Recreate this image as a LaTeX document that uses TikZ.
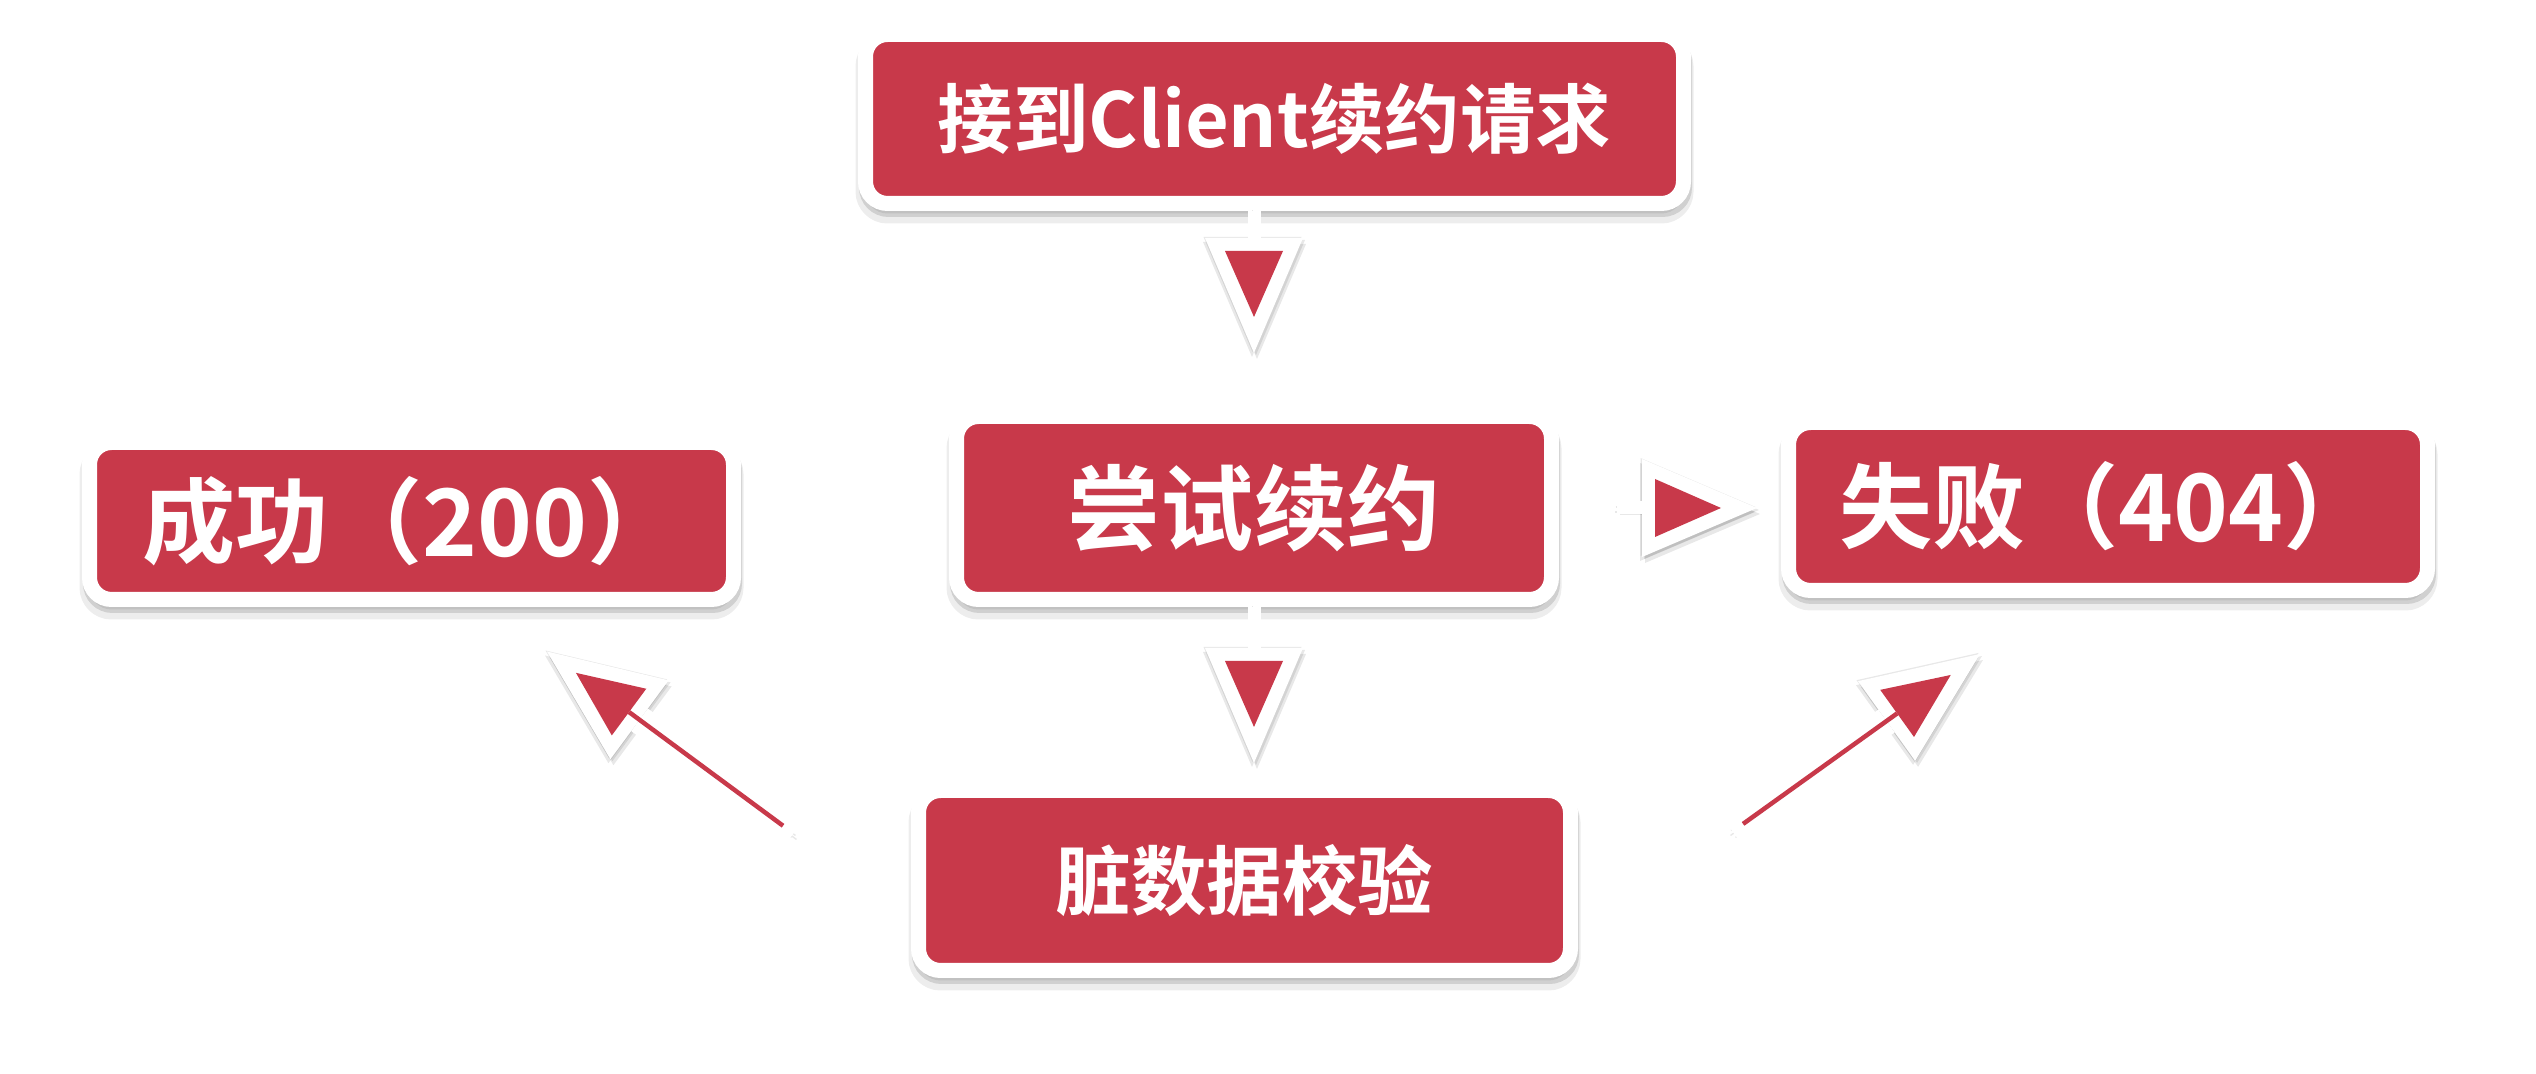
\documentclass[tikz,border=0pt]{standalone}
\usepackage{fontspec}
\newfontfamily\cjkfont{Noto Sans CJK SC}[BoldFont={* Bold}]
\usetikzlibrary{arrows.meta, calc, positioning}
\definecolor{boxred}{HTML}{C8394A}
\tikzset{
  % riquadro rosso, bordo bianco, ombra morbida
  box/.style={rectangle, rounded corners=0.22cm, fill=boxred, draw=white, line width=0.15cm,
    text=white, align=center, inner sep=0pt,
    preaction={draw=black, fill=black, opacity=0.07, line width=0.2cm, transform canvas={yshift=-0.1cm}},
    preaction={draw=black, fill=black, opacity=0.12, transform canvas={shift={(0.01cm,-0.06cm)}}}},
  bigbox/.style={box, font=\cjkfont\bfseries\fontsize{26.5pt}{30pt}\selectfont},
  smallbox/.style={box, font=\cjkfont\bfseries\fontsize{21.5pt}{26pt}\selectfont},
  % punte delle frecce
  whitetip/.tip={Triangle[length=1.15cm, width=0.98cm, line width=0pt]},
  redtip/.tip={Triangle[length=0.66cm, width=0.58cm, line width=0pt, color=boxred]},
  % ombra sfumata di una freccia
  arrowshade/.style={preaction={draw=black, opacity=#1, transform canvas={shift={(0.03cm,-0.06cm)}}},
    preaction={draw=black, opacity=#1, transform canvas={shift={(-0.02cm,-0.04cm)}}},
    preaction={draw=black, opacity=#1, transform canvas={shift={(0.02cm,-0.02cm)}}},
    preaction={draw=black, opacity=#1, transform canvas={shift={(-0.015cm,0.01cm)}}}},
  % freccia a blocco con ombra
  flowbase/.style={draw=white, -{whitetip}, arrowshade=0.09},
  flow/.style={flowbase, line width=0.13cm,
    postaction={draw=white, shorten >=0.36cm, -{redtip}}},
  flowline/.style={flowbase, line width=0.28cm,
    postaction={draw=boxred, line width=0.045cm, shorten <=0.13cm, shorten >=0.36cm, -{redtip}}},
}
\begin{document}
\begin{tikzpicture}
  \path[use as bounding box, fill=white] (0,0) rectangle (25.36,10.74);
  \node[smallbox, minimum width=8.18cm, minimum height=1.69cm] (n_req) at (12.745,9.55) {接到Client续约请求};
  \node[bigbox, minimum width=5.95cm, minimum height=1.83cm] (n_try) at (12.54,5.66) {尝试续约};
  \node[bigbox, minimum width=6.44cm, minimum height=1.57cm] (n_ok) at (4.115,5.53) {成功（200）};
  \node[bigbox, minimum width=6.39cm, minimum height=1.68cm] (n_fail) at (21.08,5.675) {失败（404）};
  \node[smallbox, minimum width=6.52cm, minimum height=1.80cm] (n_check) at (12.445,1.935) {脏数据校验};
  % collegamenti
  \draw[flow] (n_req.south -| n_try) -- ($(n_try.north)+(0,0.56)$);
  \draw[flow] (n_try.south) -- ($(n_check.north -| n_try)+(0,0.2)$);
  \draw[flow] ($(n_try.east)+(0.58,0)$) -- ($(n_fail.west |- n_try.east)+(-0.24,0)$);
  \draw[flowline] ($(n_check.west)+(-1.175,0.47)$) -- ($(n_ok.south)+(1.355,-0.445)$);
  \draw[flowline] ($(n_check.east)+(1.545,0.49)$) -- ($(n_fail.south)+(-1.28,-0.56)$);
\end{tikzpicture}
\end{document}
